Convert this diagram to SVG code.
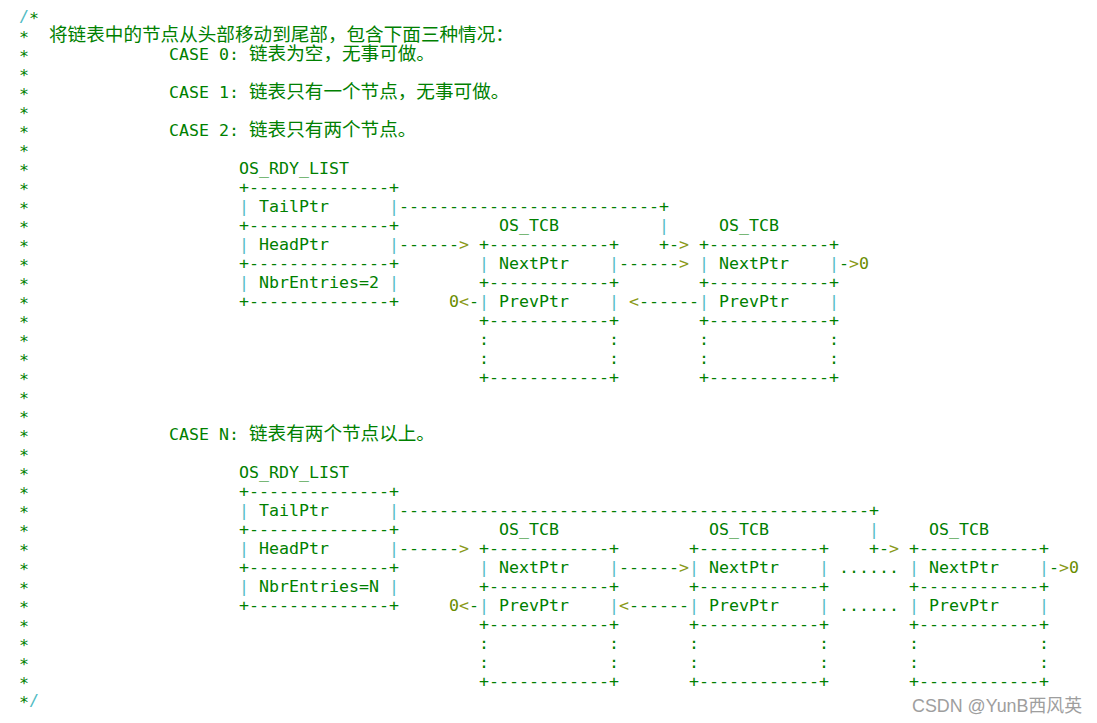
<svg xmlns="http://www.w3.org/2000/svg" width="1097" height="723" viewBox="0 0 1097 723">
<style>
text{font-family:"DejaVu Sans Mono","Liberation Mono",monospace;font-size:16.61px;fill:#008000}
.cj{font-family:"Noto Sans CJK SC",sans-serif;font-size:18.6px}
.b{fill:#52bcc4}
.a{fill:#8a9a18}
.z{fill:#6a8c00}
.wm{font-family:"Liberation Sans","Noto Sans CJK SC",sans-serif;font-size:18px;fill:#9e9e9e}
</style>
<rect width="1097" height="723" fill="#ffffff"/>
<g id="comment-frame">
<text x="19" y="22" class="b">/</text><text x="29" y="24">*</text>
<text x="19" y="43">*</text><text x="19" y="62">*</text><text x="19" y="81">*</text><text x="19" y="100">*</text>
<text x="19" y="119">*</text><text x="19" y="138">*</text><text x="19" y="157">*</text><text x="19" y="176">*</text>
<text x="19" y="195">*</text><text x="19" y="214">*</text><text x="19" y="233">*</text><text x="19" y="252">*</text>
<text x="19" y="271">*</text><text x="19" y="290">*</text><text x="19" y="309">*</text><text x="19" y="328">*</text>
<text x="19" y="347">*</text><text x="19" y="366">*</text><text x="19" y="385">*</text><text x="19" y="404">*</text>
<text x="19" y="423">*</text><text x="19" y="442">*</text><text x="19" y="461">*</text><text x="19" y="480">*</text>
<text x="19" y="499">*</text><text x="19" y="518">*</text><text x="19" y="537">*</text><text x="19" y="556">*</text>
<text x="19" y="575">*</text><text x="19" y="594">*</text><text x="19" y="613">*</text><text x="19" y="632">*</text>
<text x="19" y="651">*</text><text x="19" y="670">*</text><text x="19" y="689">*</text>
<text x="19" y="708">*</text><text x="29" y="706" class="b">/</text>
</g>
<g id="header">
<text x="49" y="41" class="cj">将链表中的节点从头部移动到尾部，包含下面三种情况：</text>
<text x="169" y="60">CASE 0:</text><text x="249" y="60" class="cj">链表为空，无事可做。</text>
<text x="169" y="98">CASE 1:</text><text x="249" y="98" class="cj">链表只有一个节点，无事可做。</text>
<text x="169" y="136">CASE 2:</text><text x="249" y="136" class="cj">链表只有两个节点。</text>
<text x="169" y="440">CASE N:</text><text x="249" y="440" class="cj">链表有两个节点以上。</text>
</g>
<g id="case2-rdy-list">
<text x="239" y="174">OS_RDY_LIST</text>
<text x="239" y="193">+--------------+</text>
<text x="239" y="212" class="b">|</text><text x="259" y="212">TailPtr</text><text x="389" y="212" class="b">|</text>
<text x="239" y="231">+--------------+</text>
<text x="239" y="250" class="b">|</text><text x="259" y="250">HeadPtr</text><text x="389" y="250" class="b">|</text>
<text x="239" y="269">+--------------+</text>
<text x="239" y="288" class="b">|</text><text x="259" y="288">NbrEntries=2</text><text x="389" y="288" class="b">|</text>
<text x="239" y="307">+--------------+</text>
</g>
<g id="case2-tcb1">
<text x="499" y="231">OS_TCB</text>
<text x="479" y="250">+------------+</text>
<text x="479" y="269" class="b">|</text><text x="499" y="269">NextPtr</text><text x="609" y="269" class="b">|</text>
<text x="479" y="288">+------------+</text>
<text x="479" y="307" class="b">|</text><text x="499" y="307">PrevPtr</text><text x="609" y="307" class="b">|</text>
<text x="479" y="326">+------------+</text>
<text x="479" y="345">:</text><text x="609" y="345">:</text>
<text x="479" y="364">:</text><text x="609" y="364">:</text>
<text x="479" y="383">+------------+</text>
</g>
<g id="case2-tcb2">
<text x="719" y="231">OS_TCB</text>
<text x="699" y="250">+------------+</text>
<text x="699" y="269" class="b">|</text><text x="719" y="269">NextPtr</text><text x="829" y="269" class="b">|</text>
<text x="699" y="288">+------------+</text>
<text x="699" y="307" class="b">|</text><text x="719" y="307">PrevPtr</text><text x="829" y="307" class="b">|</text>
<text x="699" y="326">+------------+</text>
<text x="699" y="345">:</text><text x="829" y="345">:</text>
<text x="699" y="364">:</text><text x="829" y="364">:</text>
<text x="699" y="383">+------------+</text>
</g>
<g id="caseN-rdy-list">
<text x="239" y="478">OS_RDY_LIST</text>
<text x="239" y="497">+--------------+</text>
<text x="239" y="516" class="b">|</text><text x="259" y="516">TailPtr</text><text x="389" y="516" class="b">|</text>
<text x="239" y="535">+--------------+</text>
<text x="239" y="554" class="b">|</text><text x="259" y="554">HeadPtr</text><text x="389" y="554" class="b">|</text>
<text x="239" y="573">+--------------+</text>
<text x="239" y="592" class="b">|</text><text x="259" y="592">NbrEntries=N</text><text x="389" y="592" class="b">|</text>
<text x="239" y="611">+--------------+</text>
</g>
<g id="caseN-tcb1">
<text x="499" y="535">OS_TCB</text>
<text x="479" y="554">+------------+</text>
<text x="479" y="573" class="b">|</text><text x="499" y="573">NextPtr</text><text x="609" y="573" class="b">|</text>
<text x="479" y="592">+------------+</text>
<text x="479" y="611" class="b">|</text><text x="499" y="611">PrevPtr</text><text x="609" y="611" class="b">|</text>
<text x="479" y="630">+------------+</text>
<text x="479" y="649">:</text><text x="609" y="649">:</text>
<text x="479" y="668">:</text><text x="609" y="668">:</text>
<text x="479" y="687">+------------+</text>
</g>
<g id="caseN-tcb2">
<text x="709" y="535">OS_TCB</text>
<text x="689" y="554">+------------+</text>
<text x="689" y="573" class="b">|</text><text x="709" y="573">NextPtr</text><text x="819" y="573" class="b">|</text>
<text x="689" y="592">+------------+</text>
<text x="689" y="611" class="b">|</text><text x="709" y="611">PrevPtr</text><text x="819" y="611" class="b">|</text>
<text x="689" y="630">+------------+</text>
<text x="689" y="649">:</text><text x="819" y="649">:</text>
<text x="689" y="668">:</text><text x="819" y="668">:</text>
<text x="689" y="687">+------------+</text>
</g>
<g id="caseN-tcb3">
<text x="929" y="535">OS_TCB</text>
<text x="909" y="554">+------------+</text>
<text x="909" y="573" class="b">|</text><text x="929" y="573">NextPtr</text><text x="1039" y="573" class="b">|</text>
<text x="909" y="592">+------------+</text>
<text x="909" y="611" class="b">|</text><text x="929" y="611">PrevPtr</text><text x="1039" y="611" class="b">|</text>
<text x="909" y="630">+------------+</text>
<text x="909" y="649">:</text><text x="1039" y="649">:</text>
<text x="909" y="668">:</text><text x="1039" y="668">:</text>
<text x="909" y="687">+------------+</text>
</g>
<g id="connectors">
<text x="399" y="212">--------------------------+</text>
<text x="659" y="231" class="b">|</text>
<text x="659" y="250">+-</text><text x="679" y="250" class="a">&gt;</text>
<text x="399" y="250">------</text><text x="459" y="250" class="a">&gt;</text>
<text x="619" y="269">------</text><text x="679" y="269" class="a">&gt;</text>
<text x="839" y="269">-</text><text x="849" y="269" class="a">&gt;</text><text x="859" y="269" class="z">0</text>
<text x="449" y="307" class="z">0</text><text x="459" y="307" class="a">&lt;</text><text x="469" y="307">-</text>
<text x="629" y="307" class="a">&lt;</text><text x="639" y="307">------</text>
<text x="399" y="516">-----------------------------------------------+</text>
<text x="869" y="535" class="b">|</text>
<text x="869" y="554">+-</text><text x="889" y="554" class="a">&gt;</text>
<text x="399" y="554">------</text><text x="459" y="554" class="a">&gt;</text>
<text x="619" y="573">------</text><text x="679" y="573" class="a">&gt;</text>
<text x="839" y="573">......</text>
<text x="1049" y="573">-</text><text x="1059" y="573" class="a">&gt;</text><text x="1069" y="573" class="z">0</text>
<text x="449" y="611" class="z">0</text><text x="459" y="611" class="a">&lt;</text><text x="469" y="611">-</text>
<text x="619" y="611" class="a">&lt;</text><text x="629" y="611">------</text>
<text x="839" y="611">......</text>
</g>
<text x="912" y="712" class="wm" textLength="170" lengthAdjust="spacingAndGlyphs">CSDN @YunB西风英</text>
</svg>
